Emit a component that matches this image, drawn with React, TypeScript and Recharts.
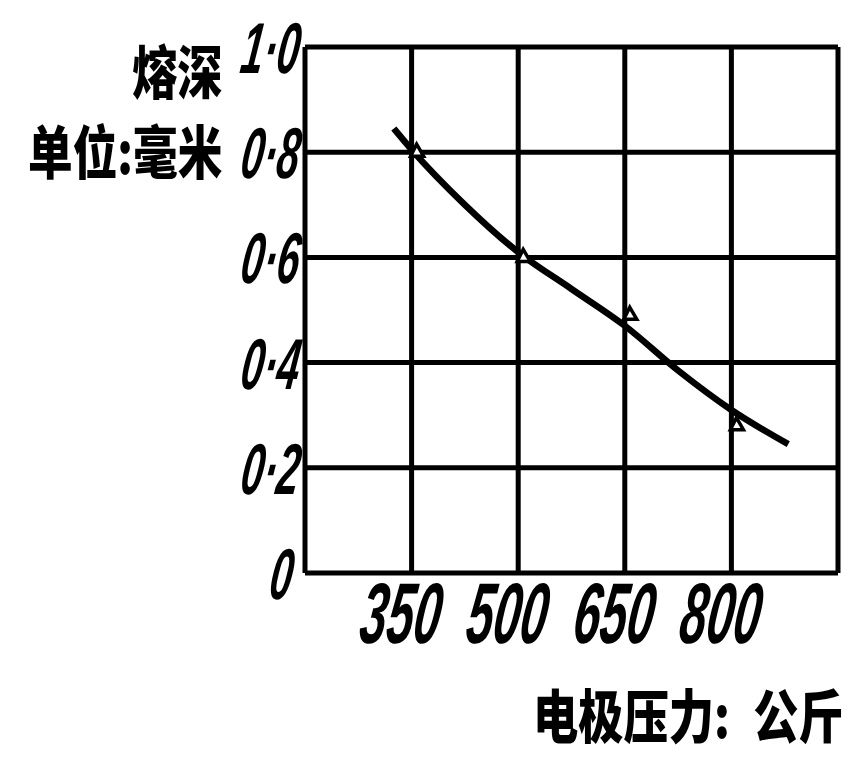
import React from "react";
import {
  ComposedChart,
  Line,
  Scatter,
  XAxis,
  YAxis,
  CartesianGrid,
} from "recharts";

// Measured points (electrode pressure kg -> penetration mm)
const pressurePoints = [350, 500, 650, 800];
const depthPoints = [0.8, 0.6, 0.49, 0.28];

// Fitted curve
const curvePressure = [325, 350, 425, 500, 575, 650, 725, 800, 880];
const curveDepth = [0.845, 0.805, 0.7, 0.61, 0.54, 0.47, 0.385, 0.31, 0.245];

const xTicks = [200, 350, 500, 650, 800, 950];
const xTickLabels = ["", "350", "500", "650", "800", ""];
const yTicks = [0, 0.2, 0.4, 0.6, 0.8, 1.0];
const yTickLabels = ["0", "0·2", "0·4", "0·6", "0·8", "1·0"];

const yTitleTop = "熔深";
const yTitleBottom = "单位:毫米";
const xTitleLeft = "电极压力:";
const xTitleRight = "公斤";

const measured = pressurePoints.map((p, i) => ({ x: p, y: depthPoints[i] }));
const curve = curvePressure.map((p, i) => ({ x: p, y: curveDepth[i] }));

const numFont = "'Liberation Sans', Arial, sans-serif";
const cjkFont = "'Noto Sans CJK SC', sans-serif";

const XTick = (props: any) => {
  const { x, y, payload } = props;
  const idx = xTicks.indexOf(payload.value);
  const label = idx >= 0 ? xTickLabels[idx] : "";
  if (!label) return null;
  return (
    <g transform={`translate(${x - 14},${y + 62})`}>
      <text
        transform="skewX(-8) scale(0.56,1)"
        textAnchor="middle"
        fontFamily={numFont}
        fontStyle="italic"
        fontWeight="bold"
        fontSize={86}
        fill="#000"
      >
        {label}
      </text>
    </g>
  );
};

const YTick = (props: any) => {
  const { x, y, payload } = props;
  const idx = yTicks.findIndex((t) => Math.abs(t - payload.value) < 1e-6);
  const label = idx >= 0 ? yTickLabels[idx] : "";
  const xr = label === "0" ? 290 : 297;
  return (
    <g transform={`translate(${xr},${y + 26})`}>
      <text
        transform="skewX(-8) scale(0.56,1)"
        textAnchor="end"
        fontFamily={numFont}
        fontStyle="italic"
        fontWeight="bold"
        fontSize={72}
        fill="#000"
      >
        {label}
      </text>
    </g>
  );
};

const Triangle = (props: any) => {
  const { cx, cy } = props;
  if (cx == null || cy == null) return null;
  const s = 6;
  return (
    <polygon
      points={`${cx + 5},${cy - s - 2} ${cx + s + 6},${cy + s - 2} ${cx - s + 5},${cy + s - 2}`}
      fill="#fff"
      stroke="#000"
      strokeWidth={3.5}
    />
  );
};

const titleStyle = (left: number, top: number, size: number, sx: number): React.CSSProperties => ({
  position: "absolute",
  left,
  top,
  fontFamily: cjkFont,
  fontWeight: 900,
  fontSize: size,
  lineHeight: 1,
  height: size,
  color: "#000",
  whiteSpace: "nowrap",
  transform: `scale(${sx},1)`,
  transformOrigin: "left top",
});

export default function App() {
  return (
    <div
      style={{
        position: "absolute",
        left: 0,
        top: 0,
        width: 865,
        height: 779,
        background: "#fff",
        overflow: "hidden",
      }}
    >
      <ComposedChart
        width={865}
        height={779}
        margin={{ top: 47, right: 27, left: 0, bottom: 126 }}
      >
        <CartesianGrid
          stroke="#000"
          strokeWidth={5}
          fill="none"
          horizontal
          vertical
        />
        <XAxis
          type="number"
          dataKey="x"
          domain={[200, 950]}
          ticks={xTicks}
          interval={0}
          axisLine={false}
          tickLine={false}
          height={80}
          tick={<XTick />}
        />
        <YAxis
          type="number"
          dataKey="y"
          domain={[0, 1]}
          ticks={yTicks}
          interval={0}
          axisLine={false}
          tickLine={false}
          width={305}
          tick={<YTick />}
        />
        <Line
          data={curve}
          dataKey="y"
          type="monotone"
          stroke="#000"
          strokeWidth={6.5}
          dot={false}
          activeDot={false}
          isAnimationActive={false}
        />
        <Scatter
          data={measured}
          dataKey="y"
          shape={<Triangle />}
          isAnimationActive={false}
        />
      </ComposedChart>
      <div style={titleStyle(132, 40, 58, 0.78)}>{yTitleTop}</div>
      <div style={titleStyle(28, 120, 58, 0.77)}>{yTitleBottom}</div>
      <div style={titleStyle(533, 684, 58, 0.78)}>
        {xTitleLeft}
        <span style={{ marginLeft: 30 }}>{xTitleRight}</span>
      </div>
    </div>
  );
}
